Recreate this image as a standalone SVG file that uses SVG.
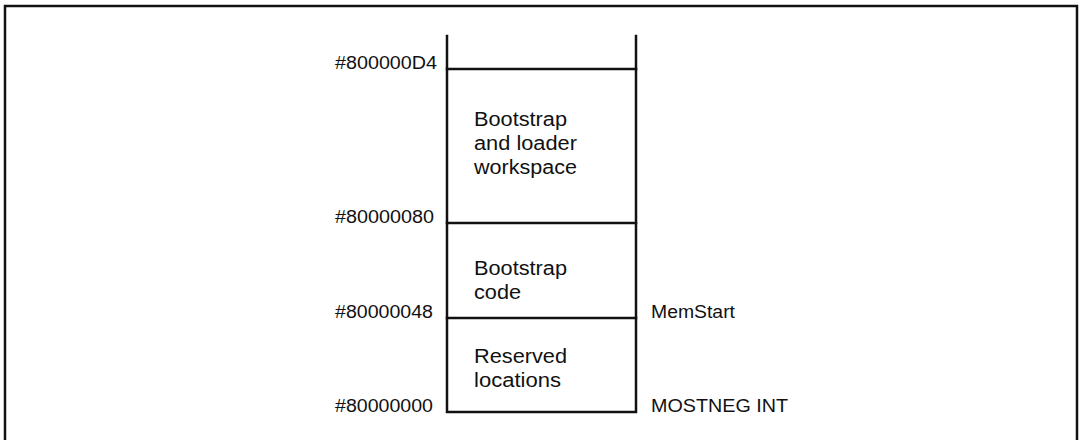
<svg xmlns="http://www.w3.org/2000/svg" width="1079" height="440" viewBox="0 0 1079 440">
<style>
.ln{stroke:#111;stroke-width:2.5;fill:none;stroke-linecap:square}
.t{font-family:"Liberation Sans",Arial,Helvetica,sans-serif;fill:#111}
.lab{font-size:17.5px}
.box{font-size:19.5px}
</style>
<rect width="1079" height="440" fill="#fff"/>
<path class="ln" d="M5,446 L5,6 L1077,6 L1077,446"/>
<g id="stack">
<path class="ln" d="M447,36 L447,412 L636,412 L636,36"/>
</g>
<g id="connectors">
<line class="ln" x1="447" y1="69" x2="636" y2="69"/>
<line class="ln" x1="447" y1="223" x2="636" y2="223"/>
<line class="ln" x1="447" y1="318" x2="636" y2="318"/>
</g>
<g id="workspace">
<text class="t box" x="474" y="126" textLength="93" lengthAdjust="spacingAndGlyphs">Bootstrap</text>
<text class="t box" x="474" y="150" textLength="103" lengthAdjust="spacingAndGlyphs">and loader</text>
<text class="t box" x="474" y="174" textLength="103" lengthAdjust="spacingAndGlyphs">workspace</text>
</g>
<g id="bootcode">
<text class="t box" x="474" y="275" textLength="93" lengthAdjust="spacingAndGlyphs">Bootstrap</text>
<text class="t box" x="474" y="299" textLength="47" lengthAdjust="spacingAndGlyphs">code</text>
</g>
<g id="reserved">
<text class="t box" x="474" y="363" textLength="93" lengthAdjust="spacingAndGlyphs">Reserved</text>
<text class="t box" x="474" y="387" textLength="87" lengthAdjust="spacingAndGlyphs">locations</text>
</g>
<g id="addr-d4"><text class="t lab" x="335" y="69" textLength="102" lengthAdjust="spacingAndGlyphs">#800000D4</text></g>
<g id="addr-80"><text class="t lab" x="335" y="223" textLength="99" lengthAdjust="spacingAndGlyphs">#80000080</text></g>
<g id="addr-48"><text class="t lab" x="335" y="318" textLength="98" lengthAdjust="spacingAndGlyphs">#80000048</text></g>
<g id="addr-00"><text class="t lab" x="335" y="412" textLength="98" lengthAdjust="spacingAndGlyphs">#80000000</text></g>
<g id="memstart"><text class="t lab" x="651" y="318" textLength="84" lengthAdjust="spacingAndGlyphs">MemStart</text></g>
<g id="mostneg"><text class="t lab" x="651" y="412" textLength="137" lengthAdjust="spacingAndGlyphs">MOSTNEG INT</text></g>
</svg>
